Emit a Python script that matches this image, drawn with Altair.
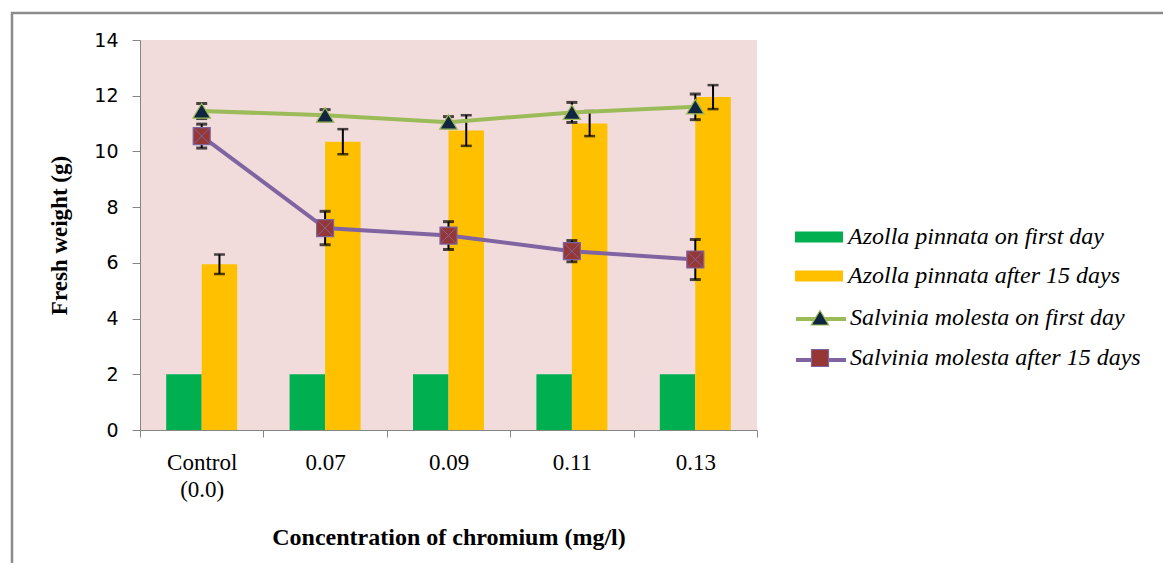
import altair as alt
import pandas as pd

categories = ["Control (0.0)", "0.07", "0.09", "0.11", "0.13"]
series_names = ["Azolla pinnata on first day", "Azolla pinnata after 15 days",
                "Salvinia molesta on first day", "Salvinia molesta after 15 days"]

azolla_first = [2.0, 2.0, 2.0, 2.0, 2.0]
azolla_15 = [5.95, 10.35, 10.75, 11.0, 11.95]
azolla_15_err = [0.35, 0.45, 0.55, 0.45, 0.43]
salvinia_first = [11.45, 11.3, 11.05, 11.4, 11.6]
salvinia_first_err = [0.27, 0.2, 0.2, 0.36, 0.46]
salvinia_15 = [10.55, 7.25, 6.98, 6.42, 6.12]
salvinia_15_err = [0.43, 0.6, 0.5, 0.38, 0.72]

bar_colors = ["#00B050", "#FFC000"]
line_colors = ["#9BBB59", "#8064A2"]
marker_fills = ["#10253F", "#953735"]
marker_paths = ["M0,-0.3L0.35,0.28L-0.35,0.28Z", "M-0.34,-0.34H0.34V0.34H-0.34Z"]

bars_df = pd.DataFrame({
    "category": categories * 2,
    "series": [series_names[0]] * 5 + [series_names[1]] * 5,
    "value": azolla_first + azolla_15,
})
bar_err_df = pd.DataFrame({
    "category": categories,
    "series": [series_names[1]] * 5,
    "lo": [v - e for v, e in zip(azolla_15, azolla_15_err)],
    "hi": [v + e for v, e in zip(azolla_15, azolla_15_err)],
})
line_df = pd.DataFrame({
    "category": categories * 2,
    "series": [series_names[2]] * 5 + [series_names[3]] * 5,
    "value": salvinia_first + salvinia_15,
    "lo": [v - e for v, e in zip(salvinia_first, salvinia_first_err)] +
          [v - e for v, e in zip(salvinia_15, salvinia_15_err)],
    "hi": [v + e for v, e in zip(salvinia_first, salvinia_first_err)] +
          [v + e for v, e in zip(salvinia_15, salvinia_15_err)],
})

W, H = 617, 390
SERIF = "Liberation Serif"
AXIS_GRAY = "#868686"

xscale = alt.Scale(domain=categories, paddingInner=0, paddingOuter=0)
yscale = alt.Scale(domain=[0, 14], nice=False)
xoff = alt.XOffset("series:N", scale=alt.Scale(domain=series_names[:2], paddingInner=0, paddingOuter=0.738))

x_axis = alt.Axis(title="Concentration of chromium (mg/l)", labelAngle=0,
                  labelExpr="split(datum.label, ' ')", labelLineHeight=27,
                  labelFont=SERIF, labelFontSize=23, labelColor="black", labelPadding=14,
                  tickBand="extent", tickSize=7, tickColor=AXIS_GRAY, domainColor=AXIS_GRAY,
                  titleFont=SERIF, titleFontSize=24, titleFontWeight="bold", titleColor="black",
                  titlePadding=24)
y_axis = alt.Axis(title="Fresh weight (g)", values=list(range(0, 15, 2)), grid=False,
                  labelFont="DejaVu Sans", labelFontSize=19, labelColor="black", labelPadding=14,
                  tickSize=8, tickColor=AXIS_GRAY, domainColor=AXIS_GRAY,
                  titleFont=SERIF, titleFontSize=23, titleFontWeight="bold", titleColor="black",
                  titlePadding=22)

LEG_SIZE = 2500
legend_common = dict(orient="none", title=None, padding=0, labelFont=SERIF, labelFontSize=24,
                     labelFontStyle="italic", labelColor="black", labelLimit=500, rowPadding=2,
                     legendX=654, symbolSize=LEG_SIZE, labelOffset=4)


def X():
    return alt.X("category:N", scale=xscale, axis=x_axis, sort=categories)


def Y(field):
    return alt.Y(field, scale=yscale, axis=y_axis)


frame = alt.Chart(pd.DataFrame({"frame": [0]})).mark_rect(
    fillOpacity=0, stroke="#8C8C8C", strokeWidth=2.5
).encode(x=alt.value(-128), x2=alt.value(1100), y=alt.value(-27), y2=alt.value(600))

bars = alt.Chart(bars_df).mark_bar().encode(
    x=X(),
    xOffset=xoff,
    y=Y("value:Q"),
    fill=alt.Fill("series:N", scale=alt.Scale(domain=series_names[:2], range=bar_colors),
                  legend=alt.Legend(legendY=172, symbolType="M-0.96,-0.22H0.96V0.22H-0.96Z",
                                    symbolStrokeWidth=0, **legend_common)),
)

bar_err_stem = alt.Chart(bar_err_df).mark_rule(color="black", strokeWidth=2).encode(
    x=X(), xOffset=xoff, y=Y("lo:Q"), y2="hi:Q",
)
bar_err_lo = alt.Chart(bar_err_df).mark_tick(color="black", thickness=2.5, size=11).encode(
    x=X(), xOffset=xoff, y=Y("lo:Q"),
)
bar_err_hi = alt.Chart(bar_err_df).mark_tick(color="black", thickness=2.5, size=11).encode(
    x=X(), xOffset=xoff, y=Y("hi:Q"),
)

lines = alt.Chart(line_df).mark_line(strokeWidth=4).encode(
    x=X(),
    y=Y("value:Q"),
    color=alt.Color("series:N", scale=alt.Scale(domain=series_names[2:], range=line_colors),
                    legend=alt.Legend(legendY=252, symbolType="stroke", symbolStrokeWidth=4,
                                      labelOpacity=0, **legend_common)),
)

line_err_stem = alt.Chart(line_df).mark_rule(color="black", strokeWidth=2).encode(
    x=X(), y=Y("lo:Q"), y2="hi:Q",
)
line_err_lo = alt.Chart(line_df).mark_tick(color="black", thickness=3, size=11).encode(
    x=X(), y=Y("lo:Q"),
)
line_err_hi = alt.Chart(line_df).mark_tick(color="black", thickness=3, size=11).encode(
    x=X(), y=Y("hi:Q"),
)

marker_legend = alt.Legend(legendY=252, symbolStrokeWidth=1.2, **legend_common)
points = alt.Chart(line_df).mark_point(filled=True, size=LEG_SIZE, strokeWidth=1.2, opacity=1).encode(
    x=X(),
    y=Y("value:Q"),
    shape=alt.Shape("series:N", scale=alt.Scale(domain=series_names[2:], range=marker_paths),
                    legend=marker_legend),
    fill=alt.Fill("series:N", scale=alt.Scale(domain=series_names[2:], range=marker_fills),
                  legend=marker_legend),
    stroke=alt.Stroke("series:N", scale=alt.Scale(domain=series_names[2:], range=line_colors),
                      legend=marker_legend),
)

crosses = alt.Chart(line_df[line_df["series"] == series_names[3]]).mark_point(
    shape="M-0.3,-0.3L0.3,0.3M-0.3,0.3L0.3,-0.3", size=LEG_SIZE, filled=False,
    stroke="#8064A2", strokeWidth=1, opacity=1
).encode(x=X(), y=Y("value:Q"))

chart = alt.layer(
    frame, bars, bar_err_stem, bar_err_lo, bar_err_hi, lines,
    line_err_stem, line_err_lo, line_err_hi, points, crosses
).resolve_scale(
    fill="independent", color="independent", stroke="independent", shape="independent"
).properties(
    width=W, height=H,
    autosize=alt.AutoSizeParams(type="none"),
    padding={"left": 132, "top": 32, "right": 406, "bottom": 133},
    background="white",
).configure_view(stroke=None, fill="#F2DCDB")

chart.save("out.html", embed_options={"renderer": "svg", "actions": False})
